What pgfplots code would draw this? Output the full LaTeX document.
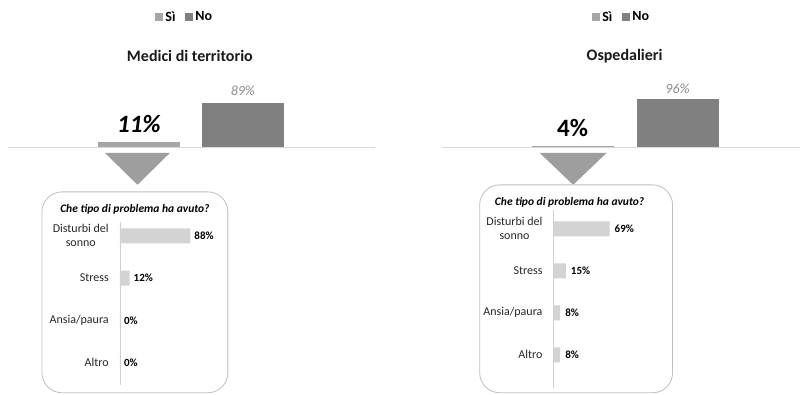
\documentclass[border=0pt]{standalone}
\usepackage{pgfplots}
\pgfplotsset{compat=1.18}
\usepackage{fontspec}
\setmainfont{Carlito}
\definecolor{siC}{HTML}{A6A6A6}
\definecolor{noC}{HTML}{808080}
\definecolor{triC}{HTML}{9E9E9E}
\definecolor{inC}{HTML}{D3D3D3}
\definecolor{lineC}{HTML}{D9D9D9}
\definecolor{boxC}{HTML}{BFBFBF}
\definecolor{axC}{HTML}{D0D0D0}
\newcommand{\fs}[2]{\fontsize{#1}{#2}\selectfont}
\pgfplotsset{
  /pgf/number format/assume math mode=true,
  topax/.style={
    x=1pt, y=0.506pt, ymin=0, ymax=110,
    axis lines=none, clip=false,
    legend columns=2,
    legend style={draw=none, fill=none, font=\fs{14}{16}\bfseries,
      /tikz/every even column/.append style={column sep=8pt}},
  },
  inax/.style={
    x=0.8pt, y=42.3pt, y dir=reverse, xmin=0, xmax=100,
    axis x line=none, axis y line=left,
    axis line style={-, draw=axC, line width=0.8pt},
    major tick length=0pt, clip=false,
    ytick={0,1,2,3},
    yticklabels={{Disturbi del\\sonno},Stress,Ansia/paura,Altro},
    yticklabel style={font=\fs{12}{14}, inner sep=0pt, xshift=-11pt, align=center, text=black!85},
  },
}
\begin{document}
\begin{tikzpicture}
\path (0pt,0pt) rectangle (800pt,395pt);
% ---------- left panel ----------
\node[font=\fs{16}{19}\bfseries, text=black!90] at (190pt,339pt) {Medici di territorio};
\begin{axis}[topax, at={(8pt,247pt)}, anchor=south west, xmin=8, xmax=375,
  legend style={at={(0.482,2.354)}, anchor=center},
  legend image code/.code={\fill[#1] (0pt,-4pt) rectangle (8pt,4pt);}]
\addplot[ybar, bar width=82, bar shift=0pt, fill=siC, draw=none,
  nodes near coords={\pgfmathprintnumber{\pgfplotspointmeta}\%},
  nodes near coords style={anchor=base, yshift=9.5pt, inner sep=0pt, text=black,
    font={\fs{25}{30}\bfseries\itshape}}] coordinates {(139,11)};
\addlegendentry{Sì}
\addplot[ybar, bar width=82, bar shift=0pt, fill=noC, draw=none,
  nodes near coords={\pgfmathprintnumber{\pgfplotspointmeta}\%},
  nodes near coords style={anchor=base, yshift=7pt, inner sep=0pt, text=black!45,
    font={\fs{14}{16}\itshape}}] coordinates {(243,89)};
\addlegendentry{No}
\draw[lineC, line width=1pt] (axis cs:8,0) -- (axis cs:375,0);
\fill[triC] (axis cs:105,-9.9) -- (axis cs:170,-9.9) -- (axis cs:137.5,-73) -- cycle;
\end{axis}
\draw[boxC, line width=0.8pt, rounded corners=20pt] (42pt,2pt) rectangle (228pt,203pt);
\node[font=\fs{11.5}{14}\bfseries\itshape] at (135pt,185pt) {Che tipo di problema ha avuto?};
\begin{axis}[inax, at={(120pt,173pt)}, anchor=north west, ymin=-0.33, ymax=3.52]
\addplot[xbar, bar width=15pt, fill=inC, draw=none, point meta=x,
  nodes near coords={\pgfmathprintnumber{\pgfplotspointmeta}\%},
  nodes near coords style={anchor=west, inner sep=0pt, xshift=4pt, text=black,
    font={\fs{11}{13}\bfseries}}] coordinates {(88,0) (12,1) (0,2) (0,3)};
\end{axis}
% ---------- right panel ----------
\node[font=\fs{16}{19}\bfseries, text=black!90] at (625pt,339pt) {Ospedalieri};
\begin{axis}[topax, at={(442pt,247pt)}, anchor=south west, xmin=442, xmax=800,
  legend style={at={(0.503,2.354)}, anchor=center},
  legend image code/.code={\fill[#1] (0pt,-4pt) rectangle (8pt,4pt);}]
\addplot[ybar, bar width=82, bar shift=0pt, fill=siC, draw=none,
  nodes near coords={\pgfmathprintnumber{\pgfplotspointmeta}\%},
  nodes near coords style={anchor=base, yshift=9pt, inner sep=0pt, text=black,
    font={\fs{25}{30}\bfseries}}] coordinates {(573,4)};
\addlegendentry{Sì}
\addplot[ybar, bar width=82, bar shift=0pt, fill=noC, draw=none,
  nodes near coords={\pgfmathprintnumber{\pgfplotspointmeta}\%},
  nodes near coords style={anchor=base, yshift=6pt, inner sep=0pt, text=black!45,
    font={\fs{14}{16}\itshape}}] coordinates {(678,96)};
\addlegendentry{No}
\draw[lineC, line width=1pt] (axis cs:442,0) -- (axis cs:800,0);
\fill[triC] (axis cs:540,-9.9) -- (axis cs:607,-9.9) -- (axis cs:573.5,-73) -- cycle;
\end{axis}
\draw[boxC, line width=0.8pt, rounded corners=20pt] (480pt,2pt) rectangle (673pt,210pt);
\node[font=\fs{11.5}{14}\bfseries\itshape] at (570pt,192pt) {Che tipo di problema ha avuto?};
\begin{axis}[inax, x=0.81pt, y=42pt, at={(554pt,184.9pt)}, anchor=north west, ymin=-0.45, ymax=3.8]
\addplot[xbar, bar width=15pt, fill=inC, draw=none, point meta=x,
  nodes near coords={\pgfmathprintnumber{\pgfplotspointmeta}\%},
  nodes near coords style={anchor=west, inner sep=0pt, xshift=5pt, text=black,
    font={\fs{11}{13}\bfseries}}] coordinates {(69,0) (15,1) (8,2) (8,3)};
\end{axis}
\end{tikzpicture}
\end{document}
